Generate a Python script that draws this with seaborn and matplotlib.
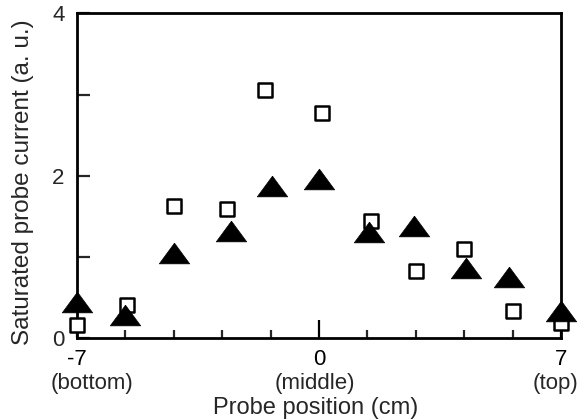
import matplotlib
matplotlib.use("Agg")
import matplotlib.pyplot as plt
import seaborn as sns
import numpy as np
import pandas as pd

# Data
sq_x = [-7.0, -5.55, -4.2, -2.65, -1.55, 0.1, 1.5, 2.8, 4.2, 5.6, 7.0]
sq_y = [0.16, 0.41, 1.63, 1.59, 3.06, 2.77, 1.44, 0.83, 1.10, 0.34, 0.19]
tri_x = [-7.0, -5.6, -4.2, -2.55, -1.35, 0.0, 1.45, 2.75, 4.25, 5.5, 7.0]
tri_y = [0.44, 0.29, 1.05, 1.32, 1.88, 1.96, 1.31, 1.38, 0.86, 0.75, 0.33]

xtick_major = [-7, 0, 7]
xtick_labels = ["-7", "0", "7"]
xtick_sub = ["(bottom)", "(middle)", "(top)"]
xtick_minor = [-5.6, -4.2, -2.8, -1.4, 1.4, 2.8, 4.2, 5.6]
ytick_major = [0, 1, 2, 3, 4]
ytick_labels = ["0", "", "2", "", "4"]

sns.set_style("ticks")
plt.rcParams['font.family'] = ['Liberation Sans', 'DejaVu Sans']

fig = plt.figure(figsize=(5.79, 4.20), dpi=100)
ax = fig.add_axes([0.133, 0.195, 0.836, 0.773])

df_sq = pd.DataFrame({"x": sq_x, "y": sq_y})
df_tri = pd.DataFrame({"x": tri_x, "y": tri_y})

tri_marker = [(0, 0.68), (-1, -0.68), (1, -0.68), (0, 0.68)]

sns.scatterplot(data=df_sq, x="x", y="y", ax=ax, marker="s", s=115,
                facecolor="white", edgecolor="black", linewidth=1.8,
                zorder=3, clip_on=False)
sns.scatterplot(data=df_tri, x="x", y="y", ax=ax, marker=tri_marker, s=480,
                color="black", edgecolor="black", linewidth=0.5,
                zorder=4, clip_on=False)

ax.set_xlim(-7, 7)
ax.set_ylim(0, 4)
ax.set_xticks(xtick_major)
ax.set_xticklabels(xtick_labels, fontsize=16)
ax.set_xticks(xtick_minor, minor=True)
ax.set_yticks(ytick_major)
ax.set_yticklabels(ytick_labels, fontsize=16)

ax.tick_params(axis="x", which="major", direction="in", length=13, width=1.6,
               pad=8, colors="black")
ax.tick_params(axis="x", which="minor", direction="in", length=6, width=1.6)
ax.tick_params(axis="y", which="major", direction="in", length=9, width=1.6,
               pad=9)

# parenthetical sub-labels under the tick labels
sub_offsets = [11, -3, -4]
for xv, txt, dx in zip(xtick_major, xtick_sub, sub_offsets):
    ax.annotate(txt, xy=(xv, 0), xycoords="data",
                xytext=(dx, -33), textcoords="offset points",
                ha="center", va="center", fontsize=16, annotation_clip=False)

for sp in ax.spines.values():
    sp.set_visible(True)
    sp.set_linewidth(2.0)
    sp.set_color("black")

ax.set_xlabel("Probe position (cm)", fontsize=17, va="top")
ax.xaxis.set_label_coords(0.494, -0.181)
ax.set_ylabel("Saturated probe current (a. u.)", fontsize=17.5)
ax.yaxis.set_label_coords(-0.088, 0.479)

fig.savefig("out.png", dpi=100)
